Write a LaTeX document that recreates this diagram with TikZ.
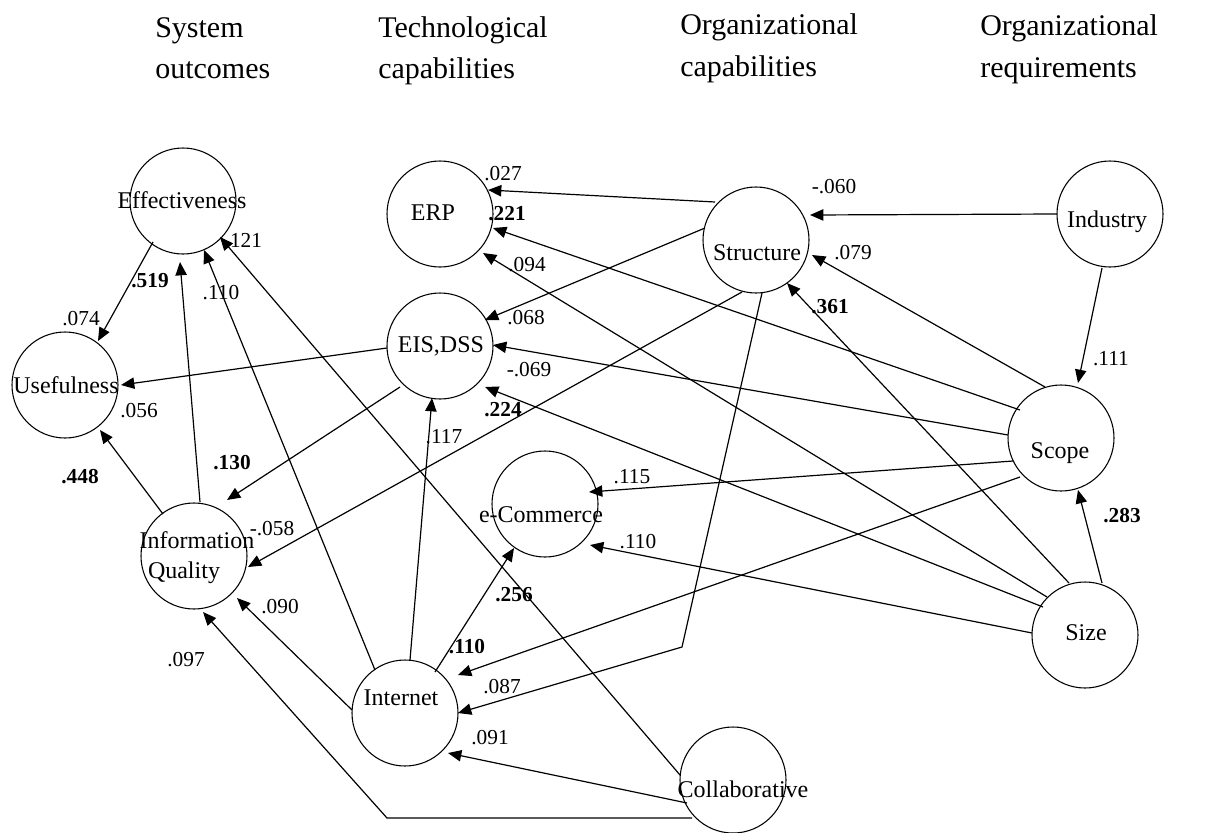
\documentclass[tikz,border=0pt]{standalone}
\usepackage{fontspec}
\setmainfont{Liberation Serif}
\usetikzlibrary{arrows.meta,calc}
\begin{document}
\begin{tikzpicture}[x=0.75pt,y=-0.75pt,
  var/.style={circle,draw,line width=0.8pt,minimum size=79.5pt,inner sep=0pt},
  vtext/.style={font=\fontsize{18}{21}\selectfont,inner sep=0pt,anchor=base},
  coef/.style={font=\fontsize{16}{18}\selectfont,inner sep=0pt,anchor=base},
  bcoef/.style={font=\fontsize{16}{18}\selectfont\bfseries,inner sep=0pt,anchor=base},
  hdr/.style={font=\fontsize{22.5}{26}\selectfont,inner sep=0pt,anchor=base west},
  link/.style={draw,line width=0.9pt,-{Triangle[length=10pt,width=8.5pt]}}
]
\useasboundingbox (0,0) rectangle (1210,832);

% headers
\node[hdr] (h1a) at (155,37) {System};
\node[hdr] (h1b) at (155,78) {outcomes};
\node[hdr] (h2a) at (378,37) {Technological};
\node[hdr] (h2b) at (378,78) {capabilities};
\node[hdr] (h3a) at (680,34) {Organizational};
\node[hdr] (h3b) at (680,76) {capabilities};
\node[hdr] (h4a) at (980,35) {Organizational};
\node[hdr] (h4b) at (980,77) {requirements};

% variables
\node[var] (eff) at (183,201) {};
\node[var] (use) at (65,385) {};
\node[var] (iq) at (194,556) {};
\node[var] (erp) at (440,214) {};
\node[var] (eis) at (440,346) {};
\node[var] (str) at (756,240) {};
\node[var] (ecom) at (545,504) {};
\node[var] (int) at (405,713) {};
\node[var] (col) at (733,780) {};
\node[var] (ind) at (1110,214) {};
\node[var] (scope) at (1061,438) {};
\node[var] (size) at (1085,635) {};

\node[vtext] (effT) at (182,208) {Effectiveness};
\node[vtext] (useT) at (66,393) {Usefulness};
\node[vtext] (iqT1) at (197,548) {Information};
\node[vtext] (iqT2) at (184,578) {Quality};
\node[vtext] (erpT) at (433,220) {ERP};
\node[vtext] (eisT) at (441,352) {EIS,DSS};
\node[vtext] (strT) at (757,260) {Structure};
\node[vtext] (ecomT) at (541,522) {e-Commerce};
\node[vtext] (intT) at (401,705) {Internet};
\node[vtext] (colT) at (743,797) {Collaborative};
\node[vtext] (indT) at (1107,227) {Industry};
\node[vtext] (scopeT) at (1060,458) {Scope};
\node[vtext] (sizeT) at (1086,640) {Size};

% coefficients
\node[coef] (c1) at (503,180) {.027};
\node[bcoef] (c2) at (507,220) {.221};
\node[coef] (c3) at (527,271) {.094};
\node[coef] (c4) at (526,324) {.068};
\node[coef] (c5) at (529,376) {-.069};
\node[bcoef] (c6) at (503,416) {.224};
\node[coef] (c7) at (444,443) {.117};
\node[coef] (c8) at (632,483) {.115};
\node[coef] (c9) at (638,548) {.110};
\node[bcoef] (c10) at (514,601) {.256};
\node[bcoef] (c11) at (467,653) {.110};
\node[coef] (c12) at (502,693) {.087};
\node[coef] (c13) at (490,744) {.091};
\node[coef] (c14) at (186,666) {.097};
\node[coef] (c15) at (280,613) {.090};
\node[coef] (c16) at (272,535) {-.058};
\node[bcoef] (c17) at (232,469) {.130};
\node[bcoef] (c18) at (80,483) {.448};
\node[coef] (c19) at (139,417) {.056};
\node[coef] (c20) at (81,325) {.074};
\node[bcoef] (c21) at (150,287) {.519};
\node[coef] (c22) at (221,299) {.110};
\node[coef] (c23) at (246,247) {121};
\node[coef] (c24) at (834,193) {-.060};
\node[coef] (c25) at (853,259) {.079};
\node[bcoef] (c26) at (830,313) {.361};
\node[coef] (c27) at (1111,365) {.111};
\node[bcoef] (c28) at (1122,522) {.283};

% bend points
\coordinate (bendA) at (682,647);
\coordinate (bendB) at (387,818);

% paths
\path[link] ($(str)+(-41,-38)$) -- ($(erp)+(48,-24)$);
\path[link] ($(scope)+(-41,-28)$) -- ($(erp)+(53,14)$);
\path[link] ($(size)+(-38,-38)$) -- ($(erp)+(43,39)$);
\path[link] ($(str)+(-51,-12)$) -- ($(eis)+(45,-26)$);
\path[link] ($(scope)+(-53,-3)$) -- ($(eis)+(53,-1)$);
\path[link] ($(size)+(-42,-28)$) -- ($(eis)+(45,41)$);
\path[link] ($(size)+(-53,-2)$) -- ($(ecom)+(45,41)$);
\path[link] ($(scope)+(-48,23)$) -- ($(ecom)+(44,-12)$);
\path[link] ($(scope)+(-41,39)$) -- ($(int)+(53,-38)$);
\path[link] ($(str)+(6,53)$) -- (bendA) -- ($(int)+(53,0)$);
\path[link] ($(col)+(-46,23)$) -- ($(int)+(43,40)$);
\path[link] ($(col)+(-41,38)$) -- (bendB) -- ($(iq)+(9,56)$);
\path[link] ($(col)+(-53,-5)$) -- ($(eff)+(37,36)$);
\path[link] ($(int)+(-30,-43)$) -- ($(eff)+(21,49)$);
\path[link] ($(iq)+(6,-54)$) -- ($(eff)+(-3,61)$);
\path[link] ($(eff)+(-30,41)$) -- ($(use)+(33,-44)$);
\path[link] ($(eis)+(-53,2)$) -- ($(use)+(56,0)$);
\path[link] ($(iq)+(-31,-42)$) -- ($(use)+(35,45)$);
\path[link] ($(eis)+(-40,41)$) -- ($(iq)+(33,-56)$);
\path[link] ($(str)+(-14,52)$) -- ($(iq)+(54,11)$);
\path[link] ($(int)+(-53,-3)$) -- ($(iq)+(43,42)$);
\path[link] ($(int)+(5,-53)$) -- ($(eis)+(-8,52)$);
\path[link] ($(int)+(30,-41)$) -- ($(ecom)+(-31,44)$);
\path[link] ($(ind)+(-53,0)$) -- ($(str)+(54,-25)$);
\path[link] ($(scope)+(-16,-51)$) -- ($(str)+(56,15)$);
\path[link] ($(size)+(-16,-52)$) -- ($(str)+(31,43)$);
\path[link] ($(ind)+(-8,54)$) -- ($(scope)+(17,-55)$);
\path[link] ($(size)+(17,-52)$) -- ($(scope)+(17,52)$);
\end{tikzpicture}
\end{document}
